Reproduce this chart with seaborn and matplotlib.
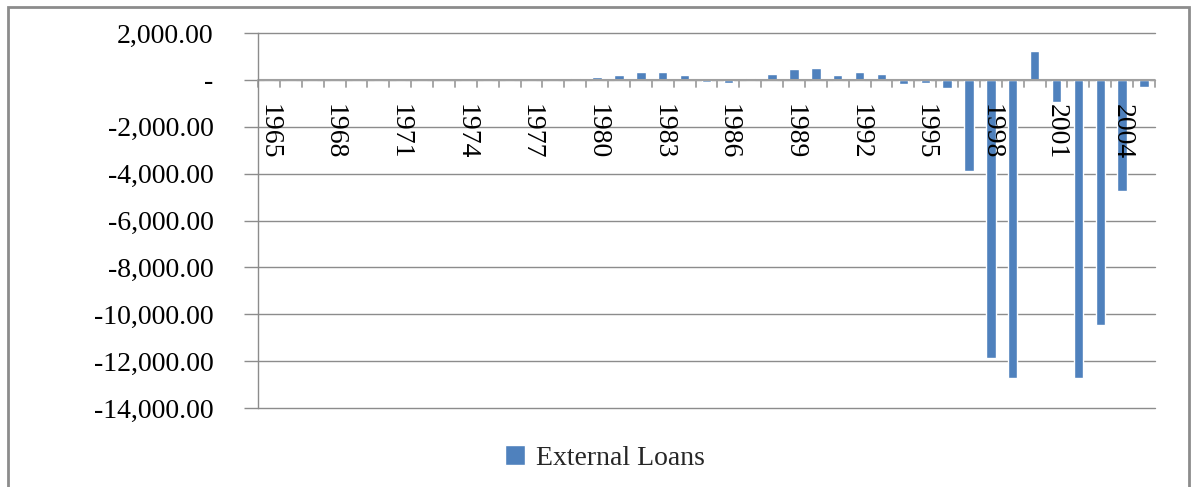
import matplotlib
matplotlib.use("Agg")
import matplotlib.pyplot as plt
import seaborn as sns
import pandas as pd
from matplotlib.patches import Rectangle
from matplotlib.ticker import FuncFormatter

years = list(range(1965, 2006))
loans = [0, 0, 0, 0, 0, 0, 0, 0, 0, 0, 0, 0, 0,
         55, 60, 115, 213, 340, 340, 213, -85, -128, 70, 255, 468, 525,
         213, 340, 255, -170, -128, -355, -3900, -11850, -12720, 1240,
         -935, -12720, -10450, -4750, -300]
label_years = list(range(1965, 2006, 3))
yticks = [2000, 0, -2000, -4000, -6000, -8000, -10000, -12000, -14000]

sns.set_theme(style="white")
plt.rcParams['font.family'] = ['Liberation Serif', 'DejaVu Serif']

df = pd.DataFrame({"Year": [str(y) for y in years], "Loans": loans})

fig = plt.figure(figsize=(11.91, 4.87), dpi=100)
ax = fig.add_axes([258/1191, 1-408/487, 897/1191, 375/487])

color = "#4F81BD"
sns.barplot(data=df, x="Year", y="Loans", color=color, width=0.43,
            saturation=1, ax=ax, label="External Loans")

ax.set_ylim(-14000, 2000)
ax.set_xlim(-0.5, len(years) - 0.5)
ax.set_yticks(yticks)
ax.yaxis.set_major_formatter(FuncFormatter(lambda v, p: "-" if v == 0 else f"{v:,.2f}"))
ax.tick_params(axis="y", labelsize=20, length=10, width=1, color="#8c8c8c",
               direction="out", pad=22, left=True, labelcolor="black")
ax.grid(axis="y", color="#8c8c8c", linewidth=1)
for gl in ax.get_ygridlines():
    gl.set_clip_on(False)
ax.set_axisbelow(True)
for s in ["top", "right", "bottom"]:
    ax.spines[s].set_visible(False)
ax.spines["left"].set_color("#8c8c8c")
ax.spines["left"].set_linewidth(1)

# category axis at zero
ax.axhline(0, color="#a0a0a0", linewidth=1.5, zorder=1)
ax.set_xticks([])
ax.set_xlabel("")
ax.set_ylabel("")
for i in range(len(years) + 1):
    ax.plot([i - 0.5, i - 0.5], [0, -285], color="#a0a0a0", linewidth=1.3, zorder=1,
            clip_on=False)
for y in label_years:
    i = years.index(y)
    ax.text(i, -1050, str(y), rotation=270, ha="center", va="top",
            fontsize=20, color="black", zorder=3)

# legend
leg = ax.legend(loc="center", bbox_to_anchor=(605/1191, 1-458/487),
                bbox_transform=fig.transFigure, frameon=False,
                fontsize=20, handlelength=0.7, handleheight=0.7, handletextpad=0.4)

# outer border
fig.patches.append(Rectangle((8/1191, -0.05), (1189-8)/1191, 1.05-7/487,
                             transform=fig.transFigure, fill=False,
                             edgecolor="#8c8c8c", linewidth=2))

fig.savefig("out.png", dpi=100)
